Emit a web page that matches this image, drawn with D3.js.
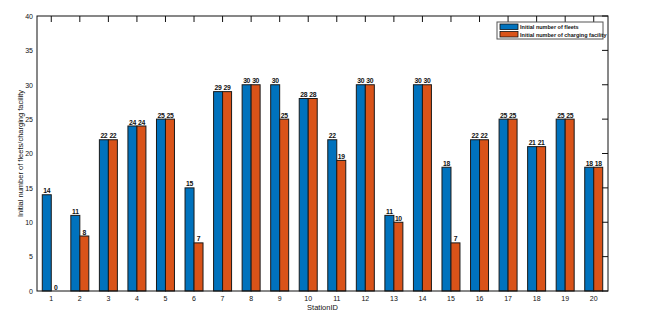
<!DOCTYPE html>
<html><head><meta charset="utf-8">
<script src="https://cdn.jsdelivr.net/npm/d3@7"></script>
<style>body{margin:0;background:#fff}svg{display:block}text{font-family:"Liberation Sans",Arial,sans-serif}</style>
</head><body><svg id="c" width="653" height="321"></svg>
<script>
const stations = ["1","2","3","4","5","6","7","8","9","10","11","12","13","14","15","16","17","18","19","20"];
const fleets   = [14,11,22,24,25,15,29,30,30,28,22,30,11,30,18,22,25,21,25,18];
const charging = [0,8,22,24,25,7,29,30,25,28,19,30,10,30,7,22,25,21,25,18];
const seriesNames = ["Initial number of fleets","Initial number of charging facility"];
const colors = ["#0072BD","#D95319"];
const yTicks = [0,5,10,15,20,25,30,35,40];

const svg = d3.select("#c");
const L=37, R=608, T=16, B=291;
const x = d3.scaleBand().domain(stations).range([L,R]).paddingInner(0.37).paddingOuter(0.185);
const xs = d3.scaleBand().domain([0,1]).range([0,x.bandwidth()]);
const y = d3.scaleLinear().domain([0,40]).range([B,T]);
const series=[fleets,charging];

series.forEach((vals,si)=>{
  svg.append("g").selectAll("rect").data(vals).join("rect")
    .attr("x",(d,i)=>x(stations[i])+xs(si))
    .attr("y",d=>y(d))
    .attr("width",xs.bandwidth())
    .attr("height",d=>y(0)-y(d))
    .attr("fill",colors[si]).attr("stroke",d=>d>0?"#1a1a1a":"none").attr("stroke-width",1);
});
series.forEach((vals,si)=>{
  svg.append("g").selectAll("text").data(vals).join("text")
    .attr("x",(d,i)=>x(stations[i])+xs(si)+xs.bandwidth()/2)
    .attr("y",d=>y(d)-1.5)
    .attr("text-anchor","middle").attr("font-size",6.8).attr("font-weight","bold").attr("fill","#111")
    .attr("letter-spacing",-0.3)
    .text(d=>d);
});
svg.append("rect").attr("x",L).attr("y",T).attr("width",R-L).attr("height",B-T)
  .attr("fill","none").attr("stroke","#111").attr("stroke-width",1);
svg.append("g").selectAll("line").data(stations).join("line")
  .attr("x1",d=>x(d)+x.bandwidth()/2).attr("x2",d=>x(d)+x.bandwidth()/2)
  .attr("y1",T).attr("y2",T+6).attr("stroke","#111");
svg.append("g").selectAll("line").data(yTicks).join("line")
  .attr("x1",R).attr("x2",R-6).attr("y1",d=>y(d)).attr("y2",d=>y(d)).attr("stroke","#111");
const ax = svg.append("g").attr("transform",`translate(0,${B})`).call(d3.axisBottom(x).tickSize(0).tickPadding(5));
ax.select(".domain").remove();
ax.selectAll("text").attr("font-size",7).attr("fill","#111").attr("font-family","Liberation Sans, Arial");
const ay = svg.append("g").attr("transform",`translate(${L},0)`).call(d3.axisLeft(y).tickValues(yTicks).tickSize(0).tickPadding(4));
ay.select(".domain").remove();
ay.selectAll("text").attr("font-size",7).attr("fill","#111").attr("font-family","Liberation Sans, Arial");
svg.append("text").attr("x",(L+R)/2).attr("y",310).attr("text-anchor","middle").attr("font-size",7.5).attr("fill","#111").text("StationID");
svg.append("text").attr("transform",`translate(23,${(T+B)/2}) rotate(-90)`).attr("text-anchor","middle").attr("font-size",7.5).attr("fill","#111").text("Initial number of fleets/charging facility");
const lg = svg.append("g");
lg.append("rect").attr("x",497).attr("y",22).attr("width",106).attr("height",17).attr("fill","#fff").attr("stroke","#555").attr("stroke-width",1);
seriesNames.forEach((n,i)=>{
  lg.append("rect").attr("x",500).attr("y",24+i*7.5).attr("width",18).attr("height",5.5).attr("fill",colors[i]).attr("stroke","#111").attr("stroke-width",0.8);
  lg.append("text").attr("x",520).attr("y",29+i*7.5).attr("font-size",5.5).attr("font-weight","bold").attr("fill","#111").text(n);
});
</script></body></html>
